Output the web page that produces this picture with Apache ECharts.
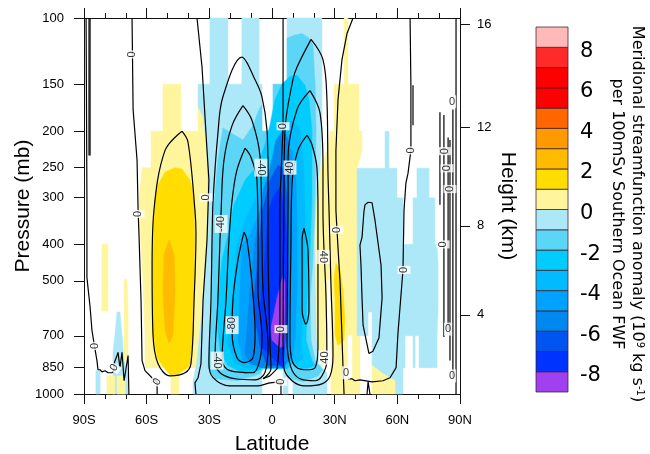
<!DOCTYPE html>
<html lang="en">
<head>
    <meta charset="UTF-8">
    <title>Streamfunction anomaly</title>
    <script src="https://cdn.jsdelivr.net/npm/echarts@6/dist/echarts.min.js"></script>
    <style>html, body { margin: 0; background: #fff; }</style>
</head>
<body>
<div id="main" style="width: 650px;height:454px;"></div>
<script type="text/javascript">
    // axis ticks
    var latTicks = ['90S', '60S', '30S', '0', '30N', '60N', '90N'];
    var pressureTicks = [100, 150, 200, 250, 300, 400, 500, 700, 850, 1000];
    var heightTicks = [16, 12, 8, 4];
    var heightPressures = [103.7, 195, 357, 616];

    // colour scale
    var scaleLevels = [-9, -8, -7, -6, -5, -4, -3, -2, -1, 0, 1, 2, 3, 4, 5, 6, 7, 8, 9];
    var scaleColors = ['#A040F0', '#0033FF', '#0055F0', '#0088EE', '#00A2FF', '#00BBFF', '#00CCFF', '#5CD6F6', '#ADE8F8',
        '#FFF59D', '#FFDD00', '#FFBB00', '#FF9900', '#FF6600', '#FF0000', '#FF0000', '#FF2A2A', '#FFB9B9'];

    // shaded regions, [latitude, pressure]
    var paleYellowSouth = [[-52.2,150],[-43.6,150],[-43.6,200],[-35.4,200],[-35.4,172],[-33,183],[-31.1,225],[-30.6,300],[-30.6,366],[-33,562],[-35.4,815],[-36.9,851],[-44.5,851],[-44.5,1000],[-48.4,1000],[-48.4,851],[-60.8,851],[-60.8,700],[-61.8,496],[-62.7,414],[-63.7,305],[-62.2,250],[-57.9,250],[-57.9,200],[-52.2,200]];
    var paleYellowBars = [
        [[-81.4,400],[-78.5,400],[-78.5,602],[-81.4,602]],
        [[-70.8,496],[-69.4,496],[-68.9,598],[-68.9,815],[-70.8,815]]
    ];
    var paleBlueBars = [
        [[-74.2,605],[-72.8,605],[-71.8,697],[-70.8,815],[-68.9,895],[-68.9,1000],[-76.1,1000],[-76.1,766],[-75.2,697]],
        [[-84.3,867],[-82.3,867],[-82.3,1000],[-84.3,1000]]
    ];
    var paleYellowFoot = [
        [[-79,895],[-75.2,895],[-75.2,1000],[-79,1000]],
        [[-74.2,895],[-70.3,895],[-70.3,1000],[-74.2,1000]]
    ];
    var paleBlueMain = [[-29.7,100],[-21.1,100],[-21.1,150],[-14.4,150],[-14.4,100],[-6.2,100],[-6.2,150],[-4.8,150],[-4.8,200],[0.5,200],[0.5,150],[7.2,150],[7.2,100],[23.9,100],[23.9,200],[23,254],[21.5,305],[20.6,389],[21.1,562],[21.5,719],[23.9,851],[26.3,878],[26.3,1000],[10,1000],[10,867],[7.7,867],[7.7,1000],[5.3,1000],[5.3,857],[-4.8,857],[-4.8,1000],[-37.8,1000],[-37.8,922],[-35.9,815],[-33,562],[-30.6,366],[-30.6,300],[-31.1,225],[-33,183],[-35.4,172],[-35.4,150],[-29.7,150]];
    var paleYellowNorth = [[34.5,100],[36.4,100],[36.4,150],[41.6,150],[41.6,200],[43.1,200],[43.1,225],[40.7,251],[40.7,700],[42.1,700],[42.1,1000],[28.2,1000],[28.2,496],[26.3,496],[26.3,742],[23.9,851],[21.5,719],[20.6,389],[21.5,305],[23,254],[26.3,225],[27.8,200],[29.7,200],[29.7,150],[34.5,150]];
    var noDataStrip = [[36.4,700],[38.3,700],[38.3,911],[36.4,911]];
    var paleBlueNorth = [[54.1,200],[56,200],[56,251],[59.8,251],[59.8,301],[62.7,301],[62.7,400],[67.5,400],[67.5,301],[69.4,301],[69.4,251],[75.2,251],[75.2,301],[78,301],[78,400],[79,400],[79.5,454],[79.5,598],[79,700],[79,851],[70.4,851],[70.4,700],[68.5,700],[68.5,851],[67.5,851],[67.5,700],[63.7,700],[63.7,851],[62.7,851],[62.7,1000],[58.9,1000],[58.9,922],[53.1,884],[47.9,840],[47.9,605],[46,605],[46,700],[42.1,700],[40.7,700],[40.7,251],[54.1,251]];
    var paleYellowWedge = [[47.9,840],[53.1,884],[58.9,922],[58.9,1000],[47.9,1000]];
    var goldSouth = [[-56,305],[-54.6,278],[-51.2,257],[-46.4,250],[-43.1,252],[-39.3,270],[-37.3,300],[-36.9,414],[-37.8,689],[-39.3,830],[-40.2,851],[-44.5,884],[-48.4,895],[-51.7,851],[-55,800],[-57,689],[-57,414]];
    var amberSouth = [[-49.3,389],[-51.7,425],[-52.2,529],[-51.2,676],[-49.3,733],[-47.4,697],[-46.4,529],[-46.9,425]];
    var goldNorth = [[30.6,449],[32.6,468],[34,529],[34.9,636],[34.5,719],[31.6,742],[30.2,697],[30.2,562],[29.7,496]];
    var blueM2 = [[-28.2,334],[-25.9,239],[-23.5,196],[-19.1,203],[-13.9,211],[-9.1,193],[-6.2,175],[-4.8,170],[-4.8,200],[0.5,200],[0.5,150],[7.2,150],[7.2,113],[11,111],[14.4,110],[17.7,113],[19.6,118],[20.6,149],[21.1,199],[20.6,305],[19.6,440],[18.2,562],[18.7,719],[20.6,815],[24.4,862],[22,895],[14.8,928],[8.6,911],[6.2,857],[-4.3,857],[-5.7,884],[-16.3,922],[-27.3,911],[-30.6,851],[-29.7,689],[-28.7,562],[-28.7,414]];
    var blueM3 = [[-25.9,676],[-25.9,562],[-23.9,440],[-21.1,378],[-18.2,314],[-12.9,270],[-6.7,246],[-3.4,217],[-1,193],[1.4,165],[4.8,150],[8.6,143],[12,142],[15.8,151],[17.7,165],[19.1,199],[19.1,305],[18.2,414],[16.8,562],[16.3,719],[19.1,815],[20.6,840],[18.2,851],[14.4,857],[10,830],[7.2,857],[-4.3,851],[-6.7,867],[-12.9,884],[-21.1,840],[-24.9,766]];
    var blueM4 = [[-21.5,733],[-18.7,529],[-16.8,402],[-12.9,345],[-8.1,305],[-3.4,262],[1.4,225],[6.2,193],[10,187],[13.4,199],[15.3,254],[15.8,345],[14.8,562],[13.9,742],[14.8,805],[12,825],[8.6,805],[6.2,851],[-4.3,851],[-10.5,857],[-17.7,830]];
    var blueM5 = [[-16.3,719],[-15.3,529],[-14.4,402],[-10.5,378],[-6.7,334],[-1.9,287],[2.9,239],[6.2,217],[9.6,225],[11.5,270],[12,366],[12,529],[11,719],[9.6,800],[7.7,825],[5.3,851],[-4.8,851],[-9.6,825],[-13.9,815]];
    var blueM6 = [[-12.9,780],[-10.5,529],[-8.1,389],[-6.7,356],[-4.3,287],[-1,254],[1.9,211],[5.3,199],[8.1,211],[9.1,270],[9.1,389],[8.6,562],[7.7,815],[4.8,851],[-4.8,851],[-10.5,830]];
    var blueM7 = [[-9.1,590],[-6.7,430],[-4.8,330],[-1,270],[2.9,246],[5.7,254],[7.2,305],[7.7,389],[7.7,590],[5.3,840],[-2.4,840],[-5.7,752]];
    var blueM8 = [[-5.7,590],[-3.4,430],[-1.9,330],[0.5,300],[3.8,281],[6.2,330],[7.2,389],[7.7,476],[5.3,851],[0,800],[-4.8,752]];
    var purpleCore = [[5.3,482],[2.4,555],[-0.5,667],[0,719],[3.8,752],[5.7,747],[6.2,590],[6.2,506]];

    // contour lines, [latitude, pressure]
    var contourWiggly = [
        [[-89,100],[-88.6,305],[-88.6,490],[-87.1,586],[-86.2,676],[-85.2,733],[-83.8,815],[-83.3,862],[-82.3,862],[-81.4,873],[-79.9,867],[-78.5,878],[-77.6,884],[-76.6,878],[-75.6,867],[-75.6,830],[-74.2,790],[-73.7,775],[-72.8,851],[-71.8,775],[-70.8,922],[-68.9,790],[-68.5,1000]],
        [[-87.1,100],[-87.1,232]],
        [[-87.6,100],[-87.6,232]],
        [[-67,100],[-66.5,175],[-64.6,239],[-64.1,324],[-63.7,373],[-62.7,562],[-62.2,815],[-60.8,867],[-57,911],[-55,928],[-55,1000]],
        [[-35.9,100],[-33.5,135],[-31.1,225],[-30.2,270],[-31.1,389],[-33,562],[-34,830],[-35.4,905],[-36.9,934],[-36.4,1000]],
        [[5.3,100],[5.3,194],[3.8,305],[3.8,672],[2.9,815],[2.4,857],[-1,895],[-4.3,911]],
        [[38.8,100],[35.9,110],[33.5,129],[31.6,165],[30.6,225],[30.6,324],[31.1,366],[32.6,506],[34,851],[34.5,1000]],
        [[46,309],[44.5,314],[44,328],[43.1,383],[42.1,402],[42.6,454],[43.1,555],[43.6,656],[46.4,780],[48.3,770],[51.2,710],[52.7,555],[52.2,454],[49.3,345],[47.9,310],[46,309]],
        [[66.1,100],[66.5,151],[66.5,190],[66.5,203],[67,203],[66.5,225],[65.1,259],[64.1,275],[63.2,324],[62.7,468],[60.3,689],[59.4,851],[56.5,905],[53.1,922],[47.9,928],[42.1,917],[39.7,922],[38.3,911],[36.4,911]],
        [[45.5,1000],[46,928],[46.9,1000]],
        [[67.5,151],[67.5,193]],
        [[88.1,100],[88.1,1000]],
        [[80.4,178],[80.4,314]],
        [[82.3,181],[82.3,705]],
        [[84.3,208],[84.3,676]],
        [[85.2,211],[85.2,815]],
        [[86.6,175],[86.6,911]]
    ];
    var contourDomes = [
        [[-43.1,200],[-51.2,225],[-56.5,324],[-57.4,457],[-57,689],[-54.6,830],[-48.8,895],[-41.6,878],[-38.8,830],[-37.3,562],[-36.4,373],[-36.9,324],[-40.2,214],[-43.1,200]],
        [[-4.3,911],[-0.5,857],[-1,719],[-1.9,389],[-1.9,259],[-2.4,199],[-4.8,162],[-8.1,146],[-14.4,127],[-23.5,162],[-25.9,203],[-28.2,305],[-28.7,389],[-29.2,562],[-30.2,830],[-28.2,905],[-20.1,952],[-7.2,952],[-1,934],[4.3,928],[4.3,1000]],
        [[-13.9,171],[-19.1,193],[-23,239],[-24.4,330],[-24.9,389],[-25.9,562],[-27.3,815],[-24.9,878],[-17.7,911],[-8.1,917],[-3.4,878],[-1.9,742],[-4.3,529],[-4.8,389],[-5.7,235],[-9.6,187],[-13.9,171]],
        [[-12.9,222],[-16.8,254],[-19.1,305],[-20.6,389],[-22,562],[-23.9,815],[-20.1,867],[-9.1,878],[-5.7,805],[-4.8,705],[-6.7,529],[-6.7,389],[-7.2,270],[-10,235],[-12.9,222]],
        [[-13.4,371],[-16.3,440],[-18.7,562],[-19.1,689],[-16.8,800],[-13.4,825],[-9.1,800],[-8.1,689],[-9.6,506],[-12,389],[-13.4,371]],
        [[18.7,114],[12,135],[10,146],[6.2,199],[5.7,305],[5.3,719],[5.7,851],[9.6,922],[15.8,952],[23.9,940],[27.8,895],[29.2,790],[28.2,506],[27.3,324],[26.8,259],[26.3,165],[24.4,129],[18.7,114]],
        [[18.2,156],[12,175],[7.7,235],[7.7,305],[7.2,719],[9.1,851],[13.4,911],[20.6,922],[23.9,895],[26.3,815],[25.9,562],[24.4,324],[24.4,250],[23,179],[18.2,156]],
        [[16.8,205],[12.4,225],[9.6,275],[9.1,389],[8.6,719],[9.6,815],[12,851],[16.8,862],[20.6,851],[22,752],[22,324],[21.5,250],[19.1,217],[16.8,205]],
        [[15.3,362],[14.4,389],[14.4,598],[16.3,652],[17.7,598],[17.2,414],[15.3,362]]
    ];

    // contour labels
    var contourLabels = [[-67,125,'0'],[-31.6,300,'0'],[-64.1,332,'0'],[-84.7,745,'0'],[-75.6,851,'0'],[-55,928,'0'],[5.3,194,'0'],[4.3,928,'0'],[4.3,672,'0'],[31.1,366,'0'],[35.4,878,'0'],[63.2,468,'0'],[66.5,225,'0'],[82.8,226,'0'],[83.8,251,'0'],[85.2,285,'0'],[86.2,167,'0'],[81.9,400,'0'],[84.3,672,'0'],[86.2,895,'0'],[-5.3,250,'-40'],[-24.4,353,'-40'],[-26.3,815,'-40'],[8.6,250,'40'],[24.4,432,'40'],[25.4,800,'40'],[-19.1,656,'-80']];
    var contourLabelAngles = [90,90,90,90,60,60,90,90,90,90,0,90,90,90,90,90,0,90,0,0,-90,90,-90,90,-90,90,90];

    var font = 'Liberation Sans';
    var barFont = 'DejaVu Sans';
    var inkColor = '#111';

    function polygonSeries(points, color) {
        return {
            type: 'custom',
            xAxisIndex: 0,
            yAxisIndex: 0,
            silent: true,
            data: points,
            renderItem: function (params, api) {
                if (params.dataIndex !== 0) {
                    return null;
                }
                return {
                    type: 'polygon',
                    shape: { points: points.map(function (p) { return api.coord(p); }) },
                    style: { fill: color, stroke: color, lineWidth: 0.5 }
                };
            }
        };
    }

    function contourSeries(points, smooth) {
        return {
            type: 'line',
            xAxisIndex: 0,
            yAxisIndex: 0,
            silent: true,
            symbol: 'none',
            smooth: smooth,
            z: 3,
            lineStyle: { color: '#000', width: 1.2 },
            data: points
        };
    }

    var series = [];
    var shaded = [
        [paleYellowSouth, '#FFF59D'], [paleBlueBars[0], '#ADE8F8'], [paleBlueBars[1], '#ADE8F8'],
        [paleYellowBars[0], '#FFF59D'], [paleYellowBars[1], '#FFF59D'], [paleYellowFoot[0], '#FFF59D'], [paleYellowFoot[1], '#FFF59D'],
        [paleBlueMain, '#ADE8F8'], [paleYellowNorth, '#FFF59D'], [noDataStrip, '#FFFFFF'], [paleBlueNorth, '#ADE8F8'], [paleYellowWedge, '#FFF59D'],
        [goldSouth, '#FFDD00'], [amberSouth, '#FFBB00'], [goldNorth, '#FFDD00'],
        [blueM2, '#5CD6F6'], [blueM3, '#00CCFF'], [blueM4, '#00BBFF'], [blueM5, '#00A2FF'], [blueM6, '#0088EE'], [blueM7, '#0055F0'], [blueM8, '#0033FF'], [purpleCore, '#A040F0']
    ];
    shaded.forEach(function (s) { series.push(polygonSeries(s[0], s[1])); });
    contourWiggly.forEach(function (c) { series.push(contourSeries(c, false)); });
    contourDomes.forEach(function (c) { series.push(contourSeries(c, 0.35)); });

    series.push({
        type: 'scatter',
        xAxisIndex: 0,
        yAxisIndex: 0,
        silent: true,
        symbolSize: 1,
        z: 4,
        itemStyle: { color: '#fff' },
        label: {
            show: true,
            position: 'inside',
            color: '#000',
            fontFamily: font,
            fontSize: 11,
            backgroundColor: '#fff',
            padding: [1, 1],
            formatter: function (p) { return p.value[2]; }
        },
        data: contourLabels.map(function (d, i) {
            return { value: d, label: { rotate: contourLabelAngles[i] } };
        })
    });

    // colour bar
    series.push({
        type: 'custom',
        xAxisIndex: 2,
        yAxisIndex: 2,
        silent: true,
        data: scaleColors.map(function (c, i) { return [0, scaleLevels[i], 1, scaleLevels[i + 1]]; }),
        renderItem: function (params, api) {
            var a = api.coord([api.value(0), api.value(1)]);
            var b = api.coord([api.value(2), api.value(3)]);
            return {
                type: 'rect',
                shape: { x: a[0], y: b[1], width: b[0] - a[0], height: a[1] - b[1] },
                style: { fill: scaleColors[params.dataIndex], stroke: 'rgba(60,30,40,0.75)', lineWidth: 1 }
            };
        }
    });

    var frameLine = { show: true, onZero: false, lineStyle: { color: inkColor, width: 1 } };
    var frameTick = { show: true, length: 10, lineStyle: { color: inkColor, width: 1 } };

    var option = {
        animation: false,
        backgroundColor: '#fff',
        textStyle: { fontFamily: font },
        grid: [
            { left: 84, right: 190, top: 18, bottom: 60, outerBoundsMode: 'none' },
            { left: 536, width: 32, top: 27, height: 365, outerBoundsMode: 'none' }
        ],
        xAxis: [
            {
                type: 'value', gridIndex: 0, position: 'bottom', min: -90, max: 90, interval: 30,
                name: 'Latitude', nameLocation: 'middle', nameGap: 40, nameMoveOverlap: false,
                nameTextStyle: { fontFamily: font, fontSize: 21, color: '#000' },
                axisLine: frameLine, axisTick: frameTick, splitLine: { show: false },
                minorTick: { show: true, splitNumber: 3, length: 5, lineStyle: { color: inkColor, width: 1 } },
                axisLabel: {
                    fontFamily: font, fontSize: 13, color: '#000', margin: 20,
                    formatter: function (v) { return latTicks[Math.round((v + 90) / 30)]; }
                }
            },
            {
                type: 'value', gridIndex: 0, position: 'top', min: -90, max: 90, interval: 30,
                axisLine: frameLine, axisTick: frameTick, splitLine: { show: false },
                minorTick: { show: true, splitNumber: 3, length: 5, lineStyle: { color: inkColor, width: 1 } },
                axisLabel: { show: false }
            },
            { type: 'value', gridIndex: 1, min: 0, max: 1, show: false }
        ],
        yAxis: [
            {
                type: 'log', logBase: 10, gridIndex: 0, position: 'left', inverse: true, min: 100, max: 1000,
                name: 'Pressure (mb)', nameLocation: 'middle', nameGap: 50, nameMoveOverlap: false,
                nameTextStyle: { fontFamily: font, fontSize: 21, color: '#000' },
                axisLine: frameLine,
                axisTick: { show: true, length: 10, lineStyle: { color: inkColor, width: 1 }, customValues: pressureTicks },
                splitLine: { show: false }, minorTick: { show: false },
                axisLabel: { fontFamily: font, fontSize: 13, color: '#000', margin: 20, customValues: pressureTicks, formatter: function (v) { return Math.round(v); } }
            },
            {
                type: 'log', logBase: 10, gridIndex: 0, position: 'right', inverse: true, min: 100, max: 1000,
                name: 'Height (km)', nameLocation: 'middle', nameGap: 37, nameRotate: -90, nameMoveOverlap: false,
                nameTextStyle: { fontFamily: font, fontSize: 21, color: '#000' },
                axisLine: frameLine,
                axisTick: { show: true, length: 10, lineStyle: { color: inkColor, width: 1 }, customValues: heightPressures },
                splitLine: { show: false }, minorTick: { show: false },
                axisLabel: {
                    fontFamily: font, fontSize: 13, color: '#000', margin: 17, customValues: heightPressures,
                    formatter: function (v) {
                        var best = 0;
                        heightPressures.forEach(function (h, i) {
                            if (Math.abs(h - v) < Math.abs(heightPressures[best] - v)) best = i;
                        });
                        return heightTicks[best];
                    }
                }
            },
            {
                type: 'value', gridIndex: 1, position: 'right', min: -9, max: 9, interval: 1,
                axisLine: { show: false }, axisTick: { show: false }, splitLine: { show: false },
                axisLabel: {
                    margin: 12,
                    formatter: function (v) { return (v % 2 === 0) ? '{n|' + v + '}' : ''; },
                    rich: { n: { fontFamily: barFont, fontSize: 21, color: '#000', padding: [8, 0, 0, 0] } }
                }
            }
        ],
        graphic: [
            {
                type: 'text', x: 637, y: 214, rotation: -Math.PI / 2, silent: true,
                style: {
                    text: 'Meridional streamfunction anomaly (10{sup|9} kg s{sup|-1})',
                    fontFamily: barFont, fontSize: 16, fill: '#000', align: 'center', verticalAlign: 'middle',
                    rich: { sup: { fontFamily: barFont, fontSize: 10, verticalAlign: 'top', fill: '#000' } }
                }
            },
            {
                type: 'text', x: 617, y: 214, rotation: -Math.PI / 2, silent: true,
                style: {
                    text: 'per 100mSv Southern Ocean FWF',
                    fontFamily: barFont, fontSize: 16, fill: '#000', align: 'center', verticalAlign: 'middle'
                }
            }
        ],
        series: series
    };

    var myChart = echarts.init(document.getElementById('main'));
    myChart.setOption(option);
</script>
</body>
</html>
